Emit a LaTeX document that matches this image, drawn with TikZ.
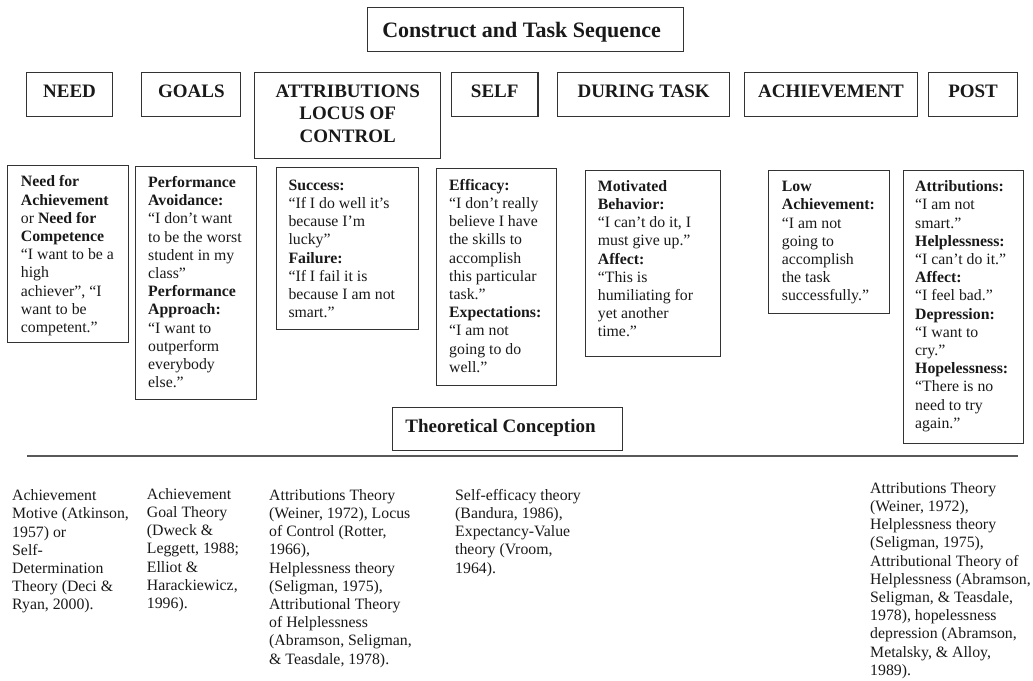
\documentclass[tikz,border=0pt]{standalone}
\usepackage{fontspec}
\setmainfont{Liberation Serif}
% strut fixing the height of the first line of a text block
\newcommand\lnstrut{\rule{0pt}{13pt}}
\begin{document}
\begin{tikzpicture}[x=1pt,y=-1pt,
  frame/.style={draw=black!80, line width=1.1pt, inner sep=0pt, anchor=north west},
  hdr/.style={frame, font=\fontsize{19}{22.5}\selectfont\bfseries,
    text height=13.5pt, text depth=6.5pt, text=black!90},
  body/.style={inner sep=0pt, anchor=north west, align=left,
    font=\fontsize{15.8}{18.2}\selectfont, text=black!90},
]
\useasboundingbox (0,0) rectangle (1033,680);

% title
\node[hdr, minimum width=316pt, minimum height=43.7pt, text height=17pt, text depth=2.1pt,
  font=\fontsize{22}{26}\selectfont\bfseries] (title) at (367,7.3) {Construct and Task Sequence\rule{8pt}{0pt}};

% sequence headers
\node[hdr, minimum width=86.6pt, minimum height=43.7pt] (h-need) at (25.7,72) {NEED};
\node[hdr, minimum width=99pt, minimum height=43.7pt] (h-goals) at (141.3,72) {GOALS};
\node[frame, minimum width=185.7pt, minimum height=86pt, align=center, text=black!90,
  font=\fontsize{19}{22.5}\selectfont\bfseries] (h-attr) at (254.3,72)
  {\rule{0pt}{14pt}ATTRIBUTIONS\\LOCUS OF\\CONTROL\rule[-5.6pt]{0pt}{0pt}};
\node[hdr, minimum width=86.4pt, minimum height=43.7pt] (h-self) at (451,72) {SELF};
\node[hdr, minimum width=172.5pt, minimum height=43.7pt] (h-during) at (556.8,72) {DURING TASK};
\node[hdr, minimum width=172.4pt, minimum height=43.7pt] (h-ach) at (744.3,72) {ACHIEVEMENT};
\node[hdr, minimum width=89.6pt, minimum height=43.7pt] (h-post) at (927.7,72) {POST};

% construct boxes
\node[frame, minimum width=120.4pt, minimum height=177pt] (b-need) at (7.3,165) {};
\node[body] (t-need) at (20.7,173.7) {\lnstrut\textbf{Need for}\\
  \textbf{Achievement}\\
  or \textbf{Need for}\\
  \textbf{Competence}\\
  “I want to be a\\
  high\\
  achiever”, “I\\
  want to be\\
  competent.”};

\node[frame, minimum width=120.4pt, minimum height=233.3pt] (b-goals) at (135.3,166) {};
\node[body] (t-goals) at (148,174.3) {\lnstrut\textbf{Performance}\\
  \textbf{Avoidance:}\\
  “I don’t want\\
  to be the worst\\
  student in my\\
  class”\\
  \textbf{Performance}\\
  \textbf{Approach:}\\
  “I want to\\
  outperform\\
  everybody\\
  else.”};

\node[frame, minimum width=142.8pt, minimum height=162pt] (b-attr) at (275.5,167.3) {};
\node[body] (t-attr) at (288.3,177) {\lnstrut\textbf{Success:}\\
  “If I do well it’s\\
  because I’m\\
  lucky”\\
  \textbf{Failure:}\\
  “If I fail it is\\
  because I am not\\
  smart.”};

\node[frame, minimum width=120pt, minimum height=216.7pt] (b-self) at (435.8,168.3) {};
\node[body] (t-self) at (449,177) {\lnstrut\textbf{Efficacy:}\\
  “I don’t really\\
  believe I have\\
  the skills to\\
  accomplish\\
  this particular\\
  task.”\\
  \textbf{Expectations:}\\
  “I am not\\
  going to do\\
  well.”};

\node[frame, minimum width=135pt, minimum height=186pt] (b-during) at (585,170) {};
\node[body] (t-during) at (597.7,178) {\lnstrut\textbf{Motivated}\\
  \textbf{Behavior:}\\
  “I can’t do it, I\\
  must give up.”\\
  \textbf{Affect:}\\
  “This is\\
  humiliating for\\
  yet another\\
  time.”};

\node[frame, minimum width=120.5pt, minimum height=143.3pt] (b-ach) at (768,170) {};
\node[body] (t-ach) at (781.7,178.5) {\lnstrut\textbf{Low}\\
  \textbf{Achievement:}\\
  “I am not\\
  going to\\
  accomplish\\
  the task\\
  successfully.”};

\node[frame, minimum width=120pt, minimum height=272.7pt] (b-post) at (903,170) {};
\node[body] (t-post) at (915,178.5) {\lnstrut\textbf{Attributions:}\\
  “I am not\\
  smart.”\\
  \textbf{Helplessness:}\\
  “I can’t do it.”\\
  \textbf{Affect:}\\
  “I feel bad.”\\
  \textbf{Depression:}\\
  “I want to\\
  cry.”\\
  \textbf{Hopelessness:}\\
  “There is no\\
  need to try\\
  again.”};

% theory section
\node[hdr, minimum width=230pt, minimum height=43pt] (theory) at (392,407) {Theoretical Conception\rule{14pt}{0pt}};
\coordinate (rule-l) at (27,456);
\coordinate (rule-r) at (1018,456);
\draw[black!65, line width=1.6pt] (rule-l) -- (rule-r);

\node[body] (r-need) at (12,487.5) {\lnstrut Achievement\\
  Motive (Atkinson,\\
  1957) or\\
  Self-\\
  Determination\\
  Theory (Deci \&\\
  Ryan, 2000).};
\node[body] (r-goals) at (146.7,486) {\lnstrut Achievement\\
  Goal Theory\\
  (Dweck \&\\
  Leggett, 1988;\\
  Elliot \&\\
  Harackiewicz,\\
  1996).};
\node[body] (r-attr) at (269,487) {\lnstrut Attributions Theory\\
  (Weiner, 1972), Locus\\
  of Control (Rotter,\\
  1966),\\
  Helplessness theory\\
  (Seligman, 1975),\\
  Attributional Theory\\
  of Helplessness\\
  (Abramson, Seligman,\\
  \& Teasdale, 1978).};
\node[body] (r-self) at (455,487) {\lnstrut Self-efficacy theory\\
  (Bandura, 1986),\\
  Expectancy-Value\\
  theory (Vroom,\\
  1964).};
\node[body] (r-post) at (870,480) {\lnstrut Attributions Theory\\
  (Weiner, 1972),\\
  Helplessness theory\\
  (Seligman, 1975),\\
  Attributional Theory of\\
  Helplessness (Abramson,\\
  Seligman, \& Teasdale,\\
  1978), hopelessness\\
  depression (Abramson,\\
  Metalsky, \& Alloy,\\
  1989).};
\end{tikzpicture}
\end{document}
